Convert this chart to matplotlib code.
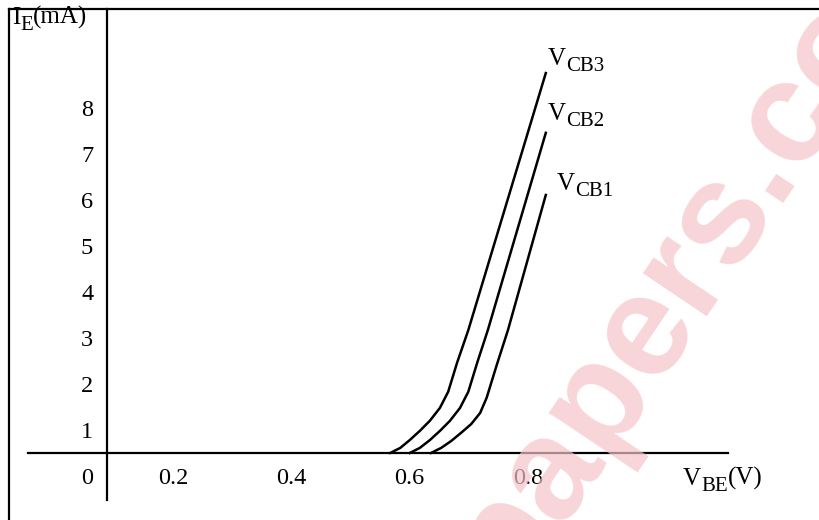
import numpy as np
import matplotlib.pyplot as plt

plt.rcParams["font.family"] = ["Liberation Serif", "DejaVu Serif"]

# courbes IE(VBE)
vbe_cb3 = [0.567, 0.584, 0.600, 0.617, 0.634, 0.651, 0.665, 0.680, 0.699, 0.830]
ie_cb3 = [0.0, 0.11, 0.28, 0.48, 0.70, 0.98, 1.33, 1.96, 2.67, 8.26]

vbe_cb2 = [0.600, 0.617, 0.634, 0.651, 0.668, 0.685, 0.699, 0.714, 0.732, 0.830]
ie_cb2 = [0.0, 0.11, 0.28, 0.48, 0.70, 0.98, 1.33, 1.96, 2.67, 6.96]

vbe_cb1 = [0.636, 0.653, 0.670, 0.687, 0.704, 0.719, 0.730, 0.747, 0.766, 0.830]
ie_cb1 = [0.0, 0.11, 0.26, 0.44, 0.63, 0.87, 1.20, 1.91, 2.67, 5.61]

curve_subs = ["CB3", "CB2", "CB1"]
y_ticks = [1, 2, 3, 4, 5, 6, 7, 8]
x_ticks = [0.2, 0.4, 0.6, 0.8]

W, H = 819, 520
fig = plt.figure(figsize=(W / 100, H / 100), dpi=100)
ax = fig.add_axes([0, 0, 1, 1])
ax.set_xlim(-0.0924, 1.2917)
ax.set_ylim(-1.4565, 9.848)
ax.axis("off")
renderer = fig.canvas.get_renderer()


def px(x, y):
    # pixel (origine en haut à gauche) -> coordonnées figure
    return x / W, 1 - y / H


def label(x, y, main, sub, tail="", size=18, subsize=15, drop=6):
    """Texte avec indice, placé en pixels (x gauche, y ligne de base)."""
    t = fig.text(*px(x, y), main, fontsize=size, ha="left", va="baseline")
    x1 = t.get_window_extent(renderer).x1
    s = fig.text(x1 / W, 1 - (y + drop) / H, sub, fontsize=subsize,
                 ha="left", va="baseline")
    if tail:
        x2 = s.get_window_extent(renderer).x1
        fig.text(x2 / W, 1 - y / H, tail, fontsize=size, ha="left", va="baseline")


# cadre
fig.add_artist(plt.Line2D([9 / W, 9 / W], [0, 1 - 9 / H], color="black", lw=1.6))
fig.add_artist(plt.Line2D([9 / W, 1], [1 - 9 / H, 1 - 9 / H], color="black", lw=1.6))

# filigrane
fig.text(*px(700, 312), "papers.co", rotation=56, ha="center", va="baseline",
         rotation_mode="anchor", fontsize=104, fontweight="bold",
         family="Liberation Sans", color="#f4c3c8", alpha=0.7, zorder=0)

# axes
ax.plot([0.0884, 0.0884], [-1.02, 9.65], color="black", lw=1.6)
ax.plot([-0.045, 1.138], [0, 0], color="black", lw=1.6)

label_offsets = [(2, -8), (2, -13), (11, -5)]
for v, i, sub, (dx, dy) in zip([vbe_cb3, vbe_cb2, vbe_cb1], [ie_cb3, ie_cb2, ie_cb1],
                               curve_subs, label_offsets):
    ax.plot(v, i, color="black", lw=1.8, solid_joinstyle="round")
    tx, ty = ax.transData.transform((v[-1], i[-1]))
    label(tx + dx, H - ty + dy, "V", sub)

off = 0.565
for k in y_ticks:
    ax.text(0.065, k - off, str(k), fontsize=17.5, ha="right", va="center")
ax.text(0.065, -off, "0", fontsize=17.5, ha="right", va="center")
for t in x_ticks:
    ax.text(t, -off, f"{t:.1f}", fontsize=17.5, ha="center", va="center")

label(683, 485, "V", "BE", "(V)")
label(12, 24, "I", "E", "(mA)")

fig.savefig("out.png", dpi=100)
